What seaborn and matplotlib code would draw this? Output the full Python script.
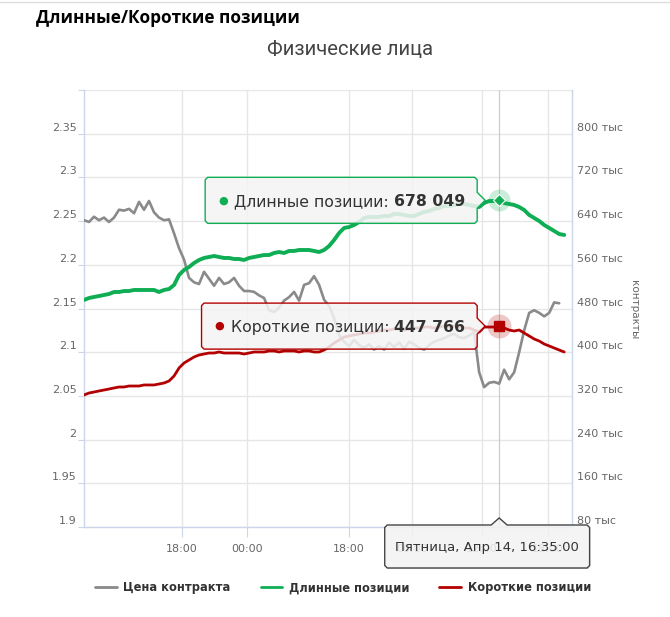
import matplotlib
matplotlib.use("Agg")
import numpy as np
import pandas as pd
import seaborn as sns
import matplotlib.pyplot as plt
import matplotlib.transforms as mtransforms
from matplotlib.patches import Polygon
from matplotlib.lines import Line2D

# ---------------- data ----------------
price = [2.251, 2.249, 2.255, 2.251, 2.254, 2.249, 2.254, 2.263, 2.262, 2.264,
         2.259, 2.272, 2.263, 2.273, 2.260, 2.254, 2.251, 2.252, 2.236, 2.219,
         2.206, 2.185, 2.180, 2.178, 2.192, 2.184, 2.176, 2.185, 2.178, 2.180,
         2.185, 2.176, 2.170, 2.170, 2.169, 2.165, 2.162, 2.148, 2.146, 2.151,
         2.159, 2.163, 2.169, 2.159, 2.177, 2.179, 2.187, 2.177, 2.160, 2.153,
         2.139, 2.120, 2.112, 2.107, 2.114, 2.108, 2.105, 2.109, 2.103, 2.107,
         2.103, 2.111, 2.106, 2.111, 2.104, 2.112, 2.109, 2.105, 2.103, 2.108,
         2.112, 2.114, 2.116, 2.119, 2.121, 2.117, 2.116, 2.119, 2.123, 2.077,
         2.060, 2.065, 2.066, 2.064, 2.080, 2.069, 2.077, 2.100, 2.125, 2.145,
         2.148, 2.145, 2.141, 2.145, 2.157, 2.156]

# thousands of contracts
long_pos = [495.6, 499.2, 501.1, 502.9, 504.7, 506.6, 510.2, 510.2, 512.0, 512.0,
            513.9, 513.9, 513.9, 513.9, 513.9, 510.2, 513.9, 515.7, 523.0, 541.3,
            550.5, 556.0, 563.3, 568.8, 572.5, 574.3, 576.1, 574.3, 572.5, 572.5,
            570.6, 570.6, 568.8, 572.5, 574.3, 576.1, 577.9, 577.9, 581.6, 583.4,
            581.6, 585.3, 585.3, 587.1, 587.1, 587.1, 585.3, 583.4, 587.1, 594.4,
            605.4, 618.2, 627.4, 629.2, 632.9, 638.4, 645.7, 647.5, 647.5, 647.5,
            649.3, 649.3, 653.0, 653.0, 651.2, 649.3, 649.3, 653.0, 656.7, 658.5,
            662.2, 664.0, 667.7, 667.7, 669.5, 671.3, 671.3, 669.5, 667.7, 665.8,
            673.1, 676.8, 676.8, 678.049, 673.1, 671.3, 669.5, 665.8, 660.3, 651.2,
            645.7, 640.2, 632.9, 627.4, 621.9, 616.4, 614.6]

short_pos = [321.7, 325.3, 327.1, 329.0, 330.8, 332.6, 334.5, 336.3, 336.3, 338.1,
             338.1, 338.1, 340.0, 340.0, 340.0, 341.8, 343.6, 347.3, 356.4, 371.1,
             380.2, 385.7, 391.2, 394.9, 396.7, 398.5, 398.5, 400.4, 398.5, 398.5,
             398.5, 398.5, 396.7, 398.5, 400.4, 400.4, 400.4, 402.2, 402.2, 400.4,
             402.2, 402.2, 402.2, 400.4, 402.2, 402.2, 400.4, 400.4, 404.0, 409.5,
             416.8, 422.3, 427.8, 429.7, 431.5, 433.3, 435.2, 435.2, 437.0, 438.8,
             440.6, 440.6, 442.5, 442.5, 440.6, 442.5, 444.3, 444.3, 446.1, 446.1,
             444.3, 446.1, 448.0, 446.1, 448.0, 446.1, 444.3, 444.3, 440.6, 437.0,
             446.1, 446.1, 446.1, 447.766, 444.3, 440.6, 438.8, 440.6, 435.2, 429.7,
             424.2, 420.5, 415.0, 411.4, 407.7, 404.0, 400.4]

x_tick_labels = ["18:00", "00:00", "18:00", "00:00", "12:00", "18:00"]
x_tick_pos = [19.6, 32.6, 53.0, 65.6, 79.6, 92.8]
price_ticks = [1.9, 1.95, 2.0, 2.05, 2.1, 2.15, 2.2, 2.25, 2.3, 2.35, 2.4]
contract_ticks = [80, 160, 240, 320, 400, 480, 560, 640, 720, 800, 880]
series_names = ["Цена контракта", "Длинные позиции", "Короткие позиции"]
hover_index = 83
hover_label = "Пятница, Апр 14, 16:35:00"
title = "Длинные/Короткие позиции"
subtitle = "Физические лица"
right_axis_title = "контракты"

GREY = "#8a8a8a"
GREEN = "#0fae55"
RED = "#b30000"
GRID = "#e6e6e6"
AXIS = "#ccd6eb"
LABEL = "#666666"
TEXT = "#333333"

sns.set_theme(style="white")
plt.rcParams["font.family"] = ["DejaVu Sans"]

W, H = 670, 617
fig = plt.figure(figsize=(W / 100, H / 100), dpi=100)
fig.patch.set_facecolor("white")
ax = fig.add_axes([84 / W, 1 - 527 / H, (571.7 - 84) / W, (527 - 90) / H])
ax2 = ax.twinx()

df_price = pd.DataFrame({"i": np.arange(len(price)), "v": price})
df_long = pd.DataFrame({"i": np.arange(len(long_pos)), "v": long_pos})
df_short = pd.DataFrame({"i": np.arange(len(short_pos)), "v": short_pos})

ax.axvline(hover_index, color="#cccccc", lw=0.9, zorder=1)
sns.lineplot(data=df_price, x="i", y="v", ax=ax, color=GREY, linewidth=1.9, zorder=3)
sns.lineplot(data=df_long, x="i", y="v", ax=ax2, color=GREEN, linewidth=2.8, zorder=3)
sns.lineplot(data=df_short, x="i", y="v", ax=ax2, color=RED, linewidth=2.0, zorder=3)

ax.set_xlim(0, 97.5)
ax.set_ylim(price_ticks[0], price_ticks[-1])
ax2.set_ylim(contract_ticks[0], contract_ticks[-1])
ax.set_xlabel("")
ax.set_ylabel("")
ax2.set_xlabel("")
ax2.set_ylabel("")

ax.set_yticks(price_ticks)
ax.set_yticklabels([f"{v:g}" for v in price_ticks[:-1]] + [""])
ax2.set_yticks(contract_ticks)
ax2.set_yticklabels([f"{v} тыс" for v in contract_ticks[:-1]] + [""])
ax.set_xticks(x_tick_pos)
ax.set_xticklabels(x_tick_labels)

ax.grid(True, axis="both", color=GRID, lw=1.0)
ax.set_axisbelow(True)
ax2.grid(False)
ax.spines["top"].set_visible(False)
ax2.spines["top"].set_visible(False)
ax.spines["left"].set_color(AXIS)
ax.spines["bottom"].set_color(AXIS)
ax.spines["right"].set_visible(False)
ax2.spines["left"].set_visible(False)
ax2.spines["bottom"].set_visible(False)
ax2.spines["right"].set_color(AXIS)
for sp in [ax.spines["left"], ax.spines["bottom"], ax2.spines["right"]]:
    sp.set_linewidth(1.0)

ax.tick_params(axis="y", left=True, length=4.3, width=0.8, color=AXIS, pad=1,
               labelsize=8, labelcolor=LABEL)
ax.tick_params(axis="x", bottom=True, length=7, width=0.8, color=AXIS, pad=5,
               labelsize=8, labelcolor=LABEL)
ax2.tick_params(axis="y", right=False, length=0, pad=4, labelsize=8, labelcolor=LABEL)

up = mtransforms.ScaledTranslation(0, 0.07, fig.dpi_scale_trans)
for lab in ax.get_yticklabels() + ax2.get_yticklabels():
    lab.set_transform(lab.get_transform() + up)

# hover markers
hx = hover_index
ax2.scatter([hx], [long_pos[hx]], s=250, color=GREEN, alpha=0.22, lw=0, zorder=5)
ax2.scatter([hx], [short_pos[hx]], s=300, color=RED, alpha=0.22, lw=0, zorder=5)
ax2.plot([hx], [long_pos[hx]], marker="D", ms=6.5, color=GREEN, mec="white", mew=0.8, zorder=6)
ax2.plot([hx], [short_pos[hx]], marker="s", ms=7.5, color=RED, mec=RED, zorder=6)

# titles
fig.add_artist(Line2D([0, 1], [1 - 2 / H, 1 - 2 / H], color="#dddddd", lw=1))
fig.text(36 / W, 1 - 18 / H, title, ha="left", va="center", fontsize=12.4,
         fontweight="bold", color="black", family=["Open Sans", "DejaVu Sans"])
fig.text(350 / W, 1 - 50 / H, subtitle, ha="center", va="center", fontsize=14.6,
         color="#444444", family=["Roboto", "DejaVu Sans"])
fig.text(634 / W, 1 - 310 / H, right_axis_title, rotation=270, ha="center", va="center",
         fontsize=7.5, color=LABEL)

# legend
handles = [Line2D([], [], color=c, lw=2) for c in [GREY, GREEN, RED]]
fig.legend(handles, series_names, loc="center", bbox_to_anchor=(343 / W, 1 - 588 / H),
           ncol=3, frameon=False, handlelength=1.9, handletextpad=0.55, columnspacing=2.6,
           prop={"weight": "bold", "size": 8.3}, labelcolor=TEXT)

# tooltips
IDT = mtransforms.IdentityTransform()
fig.canvas.draw()
renderer = fig.canvas.get_renderer()


def text_w(s, **kw):
    t = fig.text(0, 0, s, transform=IDT, **kw)
    w = t.get_window_extent(renderer).width
    t.remove()
    return w


def fmt(v):
    return f"{round(v * 1000):,}".replace(",", " ")


FILL = (0.97, 0.97, 0.97, 0.85)


def callout(axis, xi, yv, color, label, value):
    px, py = axis.transData.transform((xi, yv))
    fs = 11.3
    wl = text_w(label, size=fs)
    wv = text_w(value, size=fs, weight="bold")
    R = px - 22
    L = R - (29 + wl + wv + 12)
    h = 46
    B, T = py - h / 2, py + h / 2
    r = 2.5
    tip = px - 14
    verts = [(L + r, B), (R - r, B), (R, B + r), (R, py - 8), (tip, py), (R, py + 8),
             (R, T - r), (R - r, T), (L + r, T), (L, T - r), (L, B + r)]
    fig.add_artist(Polygon([(x + 1, y - 1) for x, y in verts], closed=True, transform=IDT,
                           fc=(0, 0, 0, 0.08), ec="none", zorder=9))
    fig.add_artist(Polygon(verts, closed=True, transform=IDT, fc=FILL, ec=color, lw=1,
                           zorder=10))
    fig.text(L + 18, py, "●", transform=IDT, ha="center", va="center", color=color,
             fontsize=8, zorder=11)
    fig.text(L + 29, py - 5.5, label, transform=IDT, ha="left", va="baseline", color=TEXT,
             fontsize=fs, zorder=11)
    fig.text(R - 12, py - 5.5, value, transform=IDT, ha="right", va="baseline", color=TEXT,
             fontsize=fs, fontweight="bold", zorder=11)


callout(ax2, hx, long_pos[hx], GREEN, series_names[1] + ": ", fmt(long_pos[hx]))
callout(ax2, hx, short_pos[hx], RED, series_names[2] + ": ", fmt(short_pos[hx]))

# x header tooltip
px, _ = ax.transData.transform((hx, price_ticks[0]))
_, by = ax.transAxes.transform((0, 0))
fs = 9.5
wt = text_w(hover_label, size=fs)
cx = px - 12
L, R = cx - wt / 2 - 10.5, cx + wt / 2 + 10.5
T = by + 2
B = T - 43
r = 2.5
verts = [(L + r, B), (R - r, B), (R, B + r), (R, T - r), (R - r, T), (px + 8, T), (px, T + 7),
         (px - 8, T), (L + r, T), (L, T - r), (L, B + r)]
fig.add_artist(Polygon([(x + 1, y - 1) for x, y in verts], closed=True, transform=IDT,
                       fc=(0, 0, 0, 0.1), ec="none", zorder=9))
fig.add_artist(Polygon(verts, closed=True, transform=IDT, fc=FILL, ec="#444444", lw=1,
                       zorder=10))
fig.text(cx, (T + B) / 2 - 5, hover_label, transform=IDT, ha="center", va="baseline",
         color=TEXT, fontsize=fs, zorder=11)

fig.savefig("out.png", dpi=100, facecolor="white")
